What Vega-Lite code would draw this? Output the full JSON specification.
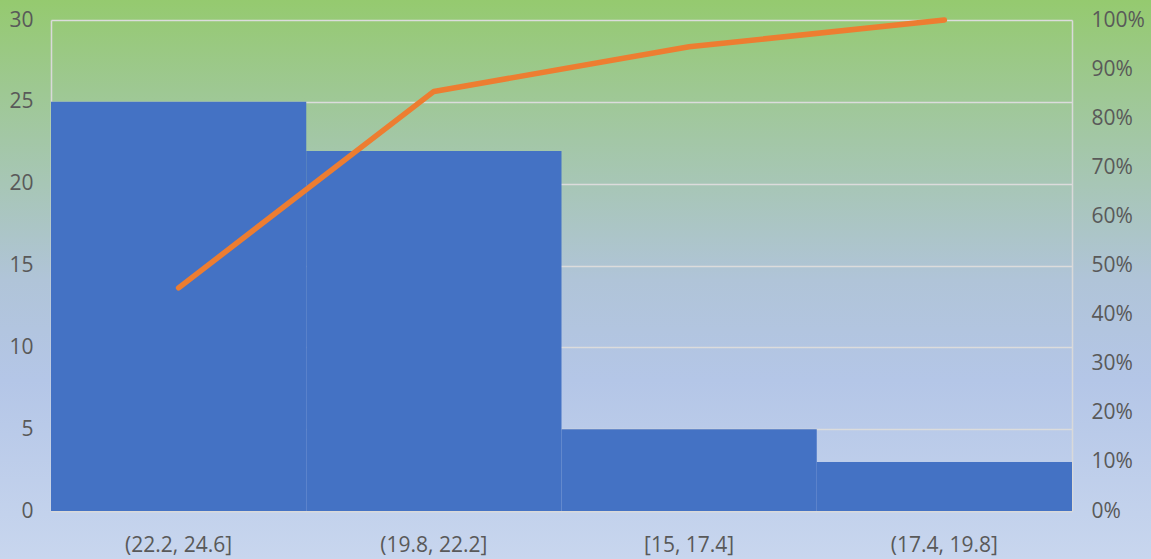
{
  "$schema": "https://vega.github.io/schema/vega-lite/v6.json",
  "width": 1151,
  "height": 559,
  "autosize": {"type": "none"},
  "padding": 0,
  "background": "#c8d6ee",
  "view": {
    "stroke": null,
    "fill": {
      "gradient": "linear",
      "x1": 0, "y1": 0, "x2": 0, "y2": 1,
      "stops": [
        {"offset": 0, "color": "#95ca6f"},
        {"offset": 0.25, "color": "#a3c7a6"},
        {"offset": 0.5, "color": "#b0c4d8"},
        {"offset": 0.68, "color": "#b4c6e7"},
        {"offset": 1, "color": "#c8d6ee"}
      ]
    }
  },
  "data": {
    "values": [
      {"bin": "(22.2, 24.6]", "count": 25, "cum": 0.4545},
      {"bin": "(19.8, 22.2]", "count": 22, "cum": 0.8545},
      {"bin": "[15, 17.4]", "count": 5, "cum": 0.9455},
      {"bin": "(17.4, 19.8]", "count": 3, "cum": 1.0}
    ]
  },
  "encoding": {
    "x": {
      "field": "bin",
      "type": "nominal",
      "sort": null,
      "scale": {"range": [51, 1072], "paddingInner": 0, "paddingOuter": 0},
      "axis": {
        "title": null,
        "labelAngle": 0,
        "ticks": false,
        "offset": -48,
        "labelPadding": 23,
        "domainColor": "#d9d9d9",
        "domainWidth": 1.5,
        "grid": false
      }
    }
  },
  "layer": [
    {
      "mark": {"type": "bar", "color": "#4472c4"},
      "encoding": {
        "y": {
          "field": "count",
          "type": "quantitative",
          "scale": {"domain": [0, 30], "nice": false, "range": [511, 20]},
          "axis": {
            "title": null,
            "orient": "left",
            "offset": -51,
            "values": [0, 5, 10, 15, 20, 25, 30],
            "ticks": false,
            "labelPadding": 18,
            "domainColor": "#d9d9d9",
            "domainWidth": 1.5,
            "grid": true,
            "gridColor": "#dcdcdc",
            "gridWidth": 1.5
          }
        }
      }
    },
    {
      "mark": {"type": "line", "color": "#ed7d31", "strokeWidth": 5.5, "strokeCap": "round", "strokeJoin": "round"},
      "encoding": {
        "y": {
          "field": "cum",
          "type": "quantitative",
          "scale": {"domain": [0, 1], "nice": false, "range": [511, 20]},
          "axis": {
            "title": null,
            "orient": "right",
            "offset": -79,
            "format": ".0%",
            "values": [0, 0.1, 0.2, 0.3, 0.4, 0.5, 0.6, 0.7, 0.8, 0.9, 1],
            "ticks": false,
            "labelPadding": 19,
            "domainColor": "#d9d9d9",
            "domainWidth": 1.5,
            "grid": false
          }
        }
      }
    }
  ],
  "resolve": {"scale": {"y": "independent"}},
  "config": {
    "font": "Open Sans",
    "axis": {
      "labelFont": "Open Sans",
      "labelFontSize": 21,
      "labelColor": "#595959"
    }
  }
}
